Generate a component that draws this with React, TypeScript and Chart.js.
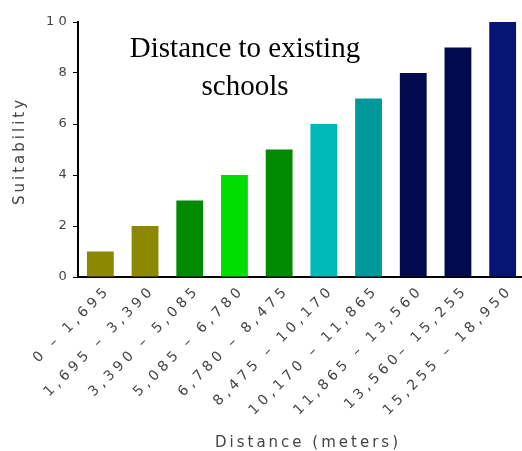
import React, { useEffect, useRef } from "react";
import { Chart, registerables } from "chart.js";

Chart.register(...registerables);

const categories = [
  "0 – 1,695",
  "1,695 – 3,390",
  "3,390 – 5,085",
  "5,085 – 6,780",
  "6,780 – 8,475",
  "8,475 – 10,170",
  "10,170 – 11,865",
  "11,865 – 13,560",
  "13,560– 15,255",
  "15,255 – 18,950",
];
const suitability = [1, 2, 3, 4, 5, 6, 7, 8, 9, 10];
const barColors = [
  "#8C8800",
  "#8C8800",
  "#008A00",
  "#00DD00",
  "#008A00",
  "#00B8B8",
  "#009999",
  "#000A4C",
  "#000A4C",
  "#061474",
];
const yMin = 0;
const yMax = 10;
const yStep = 2;
const chartTitle = ["Distance to existing", "schools"];
const xTitle = "Distance (meters)";
const yTitle = "Suitability";

const TICK_COLOR = "#444";

export default function App() {
  const ref = useRef<HTMLCanvasElement>(null);

  useEffect(() => {
    const spacing = {
      id: "spacing",
      beforeUpdate(c: any) {
        c.ctx.letterSpacing = "4.2px";
      },
      beforeDraw(c: any) {
        c.ctx.letterSpacing = "4.2px";
      },
    };
    const chart = new Chart(ref.current as HTMLCanvasElement, {
      type: "bar",
      data: {
        labels: categories,
        datasets: [
          {
            data: suitability,
            backgroundColor: barColors,
            categoryPercentage: 1,
            barPercentage: 0.6,
          },
        ],
      },
      options: {
        animation: false,
        responsive: false,
        layout: { padding: { top: 22, right: 3, left: 0, bottom: 0 } },
        plugins: { legend: { display: false }, tooltip: { enabled: false } },
        scales: {
          x: {
            grid: { display: false, drawTicks: false },
            border: { display: true, color: "#000", width: 2 },
            ticks: {
              minRotation: 45,
              maxRotation: 45,
              autoSkip: false,
              padding: 5,
              labelOffset: 8,
              color: TICK_COLOR,
              font: { family: "'DejaVu Sans', sans-serif", size: 14 },
            },
            afterFit: (s: any) => {
              s.height = 174;
            },
          },
          y: {
            min: yMin,
            max: yMax,
            ticks: {
              stepSize: yStep,
              padding: 2,
              color: TICK_COLOR,
              font: { family: "'DejaVu Sans', sans-serif", size: 13 },
            },
            grid: {
              drawOnChartArea: false,
              drawTicks: true,
              tickLength: 5,
              color: "#000",
            },
            border: { color: "#000", width: 2 },
            afterFit: (s: any) => {
              s.width = 78;
            },
          },
        },
      },
      plugins: [spacing],
    });
    return () => chart.destroy();
  }, []);

  return (
    <div
      style={{
        position: "absolute",
        left: 0,
        top: 0,
        width: 522,
        height: 451,
        overflow: "hidden",
        background: "#fff",
      }}
    >
      <canvas
        ref={ref}
        width={528}
        height={451}
        style={{ position: "absolute", left: 0, top: 0, width: 528, height: 451 }}
      />
      <div
        style={{
          position: "absolute",
          left: 0,
          top: 28,
          width: 490,
          textAlign: "center",
          fontFamily: "'Liberation Serif', serif",
          fontSize: 29,
          lineHeight: "38px",
          color: "#000",
        }}
      >
        {chartTitle.map((t) => (
          <div key={t}>{t}</div>
        ))}
      </div>
      <div
        style={{
          position: "absolute",
          left: 19,
          top: 151,
          transform: "translate(-50%, -50%) rotate(-90deg)",
          fontFamily: "'DejaVu Sans', sans-serif",
          fontSize: 15,
          lineHeight: "18px",
          letterSpacing: 3,
          color: TICK_COLOR,
          whiteSpace: "nowrap",
        }}
      >
        {yTitle}
      </div>
      <div
        style={{
          position: "absolute",
          left: 308,
          top: 433,
          transform: "translateX(-50%)",
          fontFamily: "'DejaVu Sans', sans-serif",
          fontSize: 15,
          lineHeight: "18px",
          letterSpacing: 3,
          color: TICK_COLOR,
          whiteSpace: "nowrap",
        }}
      >
        {xTitle}
      </div>
    </div>
  );
}
